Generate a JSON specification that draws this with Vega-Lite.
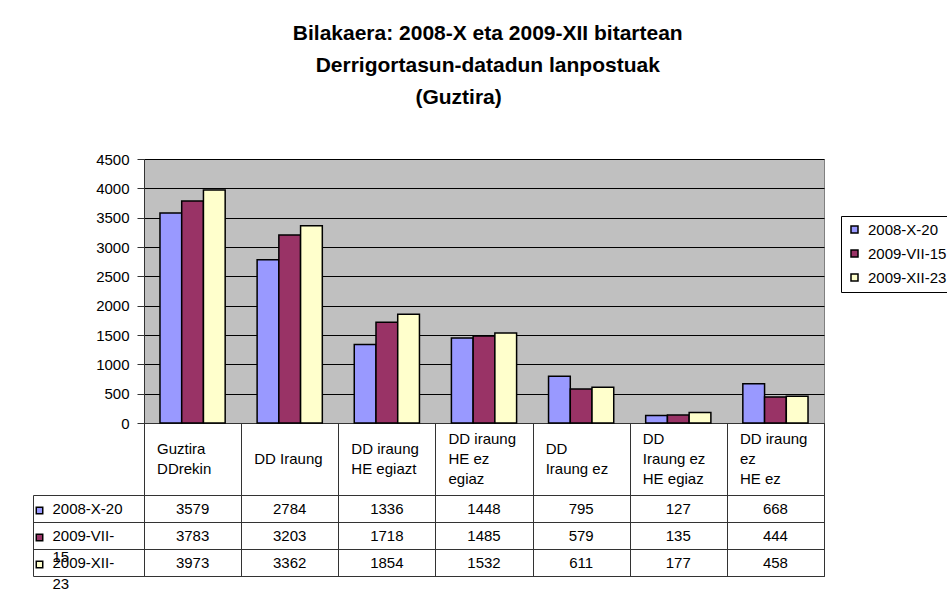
{
  "$schema": "https://vega.github.io/schema/vega-lite/v6.json",
  "background": "white",
  "padding": {"left": 31, "top": 22, "right": 0, "bottom": 0},
  "title": {
    "text": ["Bilakaera: 2008-X eta 2009-XII bitartean", "Derrigortasun-datadun lanpostuak", "(Guztira)\u00a0\u00a0\u00a0\u00a0\u00a0\u00a0\u00a0\u00a0\u00a0\u00a0\u200b"],
    "fontSize": 21, "font": "Liberation Sans", "fontWeight": "bold", "lineHeight": 32,
    "anchor": "middle", "offset": 44, "dx": -5, "color": "black"
  },
  "data": {"values": [
    {"category": "Guztira\nDDrekin", "series": "2008-X-20", "value": 3579},
    {"category": "Guztira\nDDrekin", "series": "2009-VII-15", "value": 3783},
    {"category": "Guztira\nDDrekin", "series": "2009-XII-23", "value": 3973},
    {"category": "DD Iraung", "series": "2008-X-20", "value": 2784},
    {"category": "DD Iraung", "series": "2009-VII-15", "value": 3203},
    {"category": "DD Iraung", "series": "2009-XII-23", "value": 3362},
    {"category": "DD iraung\nHE egiazt", "series": "2008-X-20", "value": 1336},
    {"category": "DD iraung\nHE egiazt", "series": "2009-VII-15", "value": 1718},
    {"category": "DD iraung\nHE egiazt", "series": "2009-XII-23", "value": 1854},
    {"category": "DD iraung\nHE ez\negiaz", "series": "2008-X-20", "value": 1448},
    {"category": "DD iraung\nHE ez\negiaz", "series": "2009-VII-15", "value": 1485},
    {"category": "DD iraung\nHE ez\negiaz", "series": "2009-XII-23", "value": 1532},
    {"category": "DD\nIraung ez", "series": "2008-X-20", "value": 795},
    {"category": "DD\nIraung ez", "series": "2009-VII-15", "value": 579},
    {"category": "DD\nIraung ez", "series": "2009-XII-23", "value": 611},
    {"category": "DD\nIraung ez\nHE egiaz", "series": "2008-X-20", "value": 127},
    {"category": "DD\nIraung ez\nHE egiaz", "series": "2009-VII-15", "value": 135},
    {"category": "DD\nIraung ez\nHE egiaz", "series": "2009-XII-23", "value": 177},
    {"category": "DD iraung\nez\nHE ez", "series": "2008-X-20", "value": 668},
    {"category": "DD iraung\nez\nHE ez", "series": "2009-VII-15", "value": 444},
    {"category": "DD iraung\nez\nHE ez", "series": "2009-XII-23", "value": 458}
  ]},
  "bounds": "flush",
  "spacing": 72,
  "resolve": {"scale": {"x": "independent", "y": "independent", "color": "shared"}, "legend": {"color": "independent"}},
  "vconcat": [
    {
      "width": 680, "height": 264,
      "view": {"fill": "#C0C0C0", "stroke": "#808080", "strokeWidth": 1},
      "mark": {"type": "bar", "stroke": "black", "strokeWidth": 1.5},
      "encoding": {
        "x": {"field": "category", "type": "nominal", "sort": null,
          "scale": {"paddingInner": 0, "paddingOuter": 0},
          "axis": {"title": null, "labelAngle": 0, "labelAlign": "left", "labelOffset": -36, "labelBaseline": "middle",
            "labelPadding": -57,
            "labelExpr": "length(split(datum.label, '\\n')) == 3 ? [split(datum.label, '\\n')[0], '\u200b', split(datum.label, '\\n')[1], '\u200b', split(datum.label, '\\n')[2]] : length(split(datum.label, '\\n')) == 2 ? ['\u200b', split(datum.label, '\\n')[0], '\u200b', split(datum.label, '\\n')[1]] : ['\u200b', '\u200b', datum.label]",
            "labelLineHeight": 10,
            "labelFontSize": 15, "labelColor": "black", "labelFont": "Liberation Sans",
            "tickBand": "extent", "tickSize": 72, "tickColor": "#333333", "tickWidth": 1,
            "domainColor": "#333333", "domainWidth": 1, "labelOverlap": false, "labelFlush": false,
            "labelLimit": 300, "labelBound": false, "grid": false}},
        "xOffset": {"field": "series", "type": "nominal", "sort": ["2008-X-20", "2009-VII-15", "2009-XII-23"],
          "scale": {"paddingInner": 0, "paddingOuter": 0.735}},
        "y": {"field": "value", "type": "quantitative", "scale": {"domain": [0, 4500], "nice": false},
          "axis": {"title": null, "values": [0, 500, 1000, 1500, 2000, 2500, 3000, 3500, 4000, 4500], "format": "d",
            "labelFontSize": 15, "labelColor": "black", "labelFont": "Liberation Sans", "labelPadding": 8,
            "tickSize": 7, "tickColor": "#333333", "domainColor": "#333333",
            "grid": true, "gridColor": "#000000", "gridWidth": 1, "gridOpacity": 1}},
        "color": {"field": "series", "type": "nominal",
          "scale": {"domain": ["2008-X-20", "2009-VII-15", "2009-XII-23"], "range": ["#9999FF", "#993366", "#FFFFCC"]},
          "legend": {"orient": "none", "legendX": 697, "legendY": 57, "title": null,
            "symbolType": "square", "symbolSize": 49, "symbolStrokeColor": "black", "symbolStrokeWidth": 1.5, "symbolOpacity": 1,
            "labelFontSize": 15, "labelFont": "Liberation Sans", "labelColor": "black", "labelOffset": 6,
            "padding": 6, "strokeColor": "black", "fillColor": "white", "rowPadding": 8}}
      }
    },
    {
      "width": 680, "height": 81,
      "view": {"fill": null, "stroke": "#333333", "strokeWidth": 1},
      "encoding": {
        "x": {"field": "category", "type": "nominal", "sort": null,
          "scale": {"paddingInner": 0, "paddingOuter": 0},
          "axis": {"orient": "top", "title": null, "labels": false, "ticks": false, "domain": false,
            "grid": true, "tickBand": "extent", "gridColor": "#333333", "gridWidth": 1, "gridOpacity": 1}},
        "y": {"field": "series", "type": "nominal", "sort": ["2008-X-20", "2009-VII-15", "2009-XII-23"],
          "scale": {"paddingInner": 0, "paddingOuter": 0},
          "axis": {"title": null, "offset": 111, "tickSize": -111, "tickBand": "extent", "tickColor": "#333333", "tickWidth": 1,
            "domainColor": "#333333", "domainWidth": 1, "grid": true, "gridColor": "#333333", "gridWidth": 1, "gridOpacity": 1,
            "labelAlign": "left", "labelBaseline": "middle", "labelPadding": 92,
            "labelExpr": "length(datum.label) > 10 ? [slice(datum.label, 0, -2), slice(datum.label, -2)] : datum.label",
            "labelLineHeight": 21, "labelFontSize": 15, "labelColor": "black", "labelFont": "Liberation Sans",
            "labelOverlap": false, "labelBound": false, "labelFlush": false, "labelLimit": 300}}
      },
      "layer": [
        {
          "mark": {"type": "text", "fontSize": 15, "font": "Liberation Sans", "color": "black"},
          "encoding": {"text": {"field": "value", "type": "quantitative", "format": "d"}}
        },
        {
          "mark": {"type": "point", "filled": true, "shape": "square", "opacity": 0},
          "encoding": {
            "color": {"field": "series", "type": "nominal",
              "scale": {"domain": ["2008-X-20", "2009-VII-15", "2009-XII-23"], "range": ["#9999FF", "#993366", "#FFFFCC"]},
              "legend": {"orient": "none", "legendX": -112, "legendY": 8, "title": null, "labelExpr": "''",
                "symbolType": "square", "symbolSize": 42, "symbolStrokeColor": "black", "symbolStrokeWidth": 1.5,
                "symbolOpacity": 1, "padding": 0, "labelOffset": 0, "labelFontSize": 15, "rowPadding": 11}}
          }
        }
      ]
    }
  ],
  "config": {"font": "Liberation Sans"}
}
